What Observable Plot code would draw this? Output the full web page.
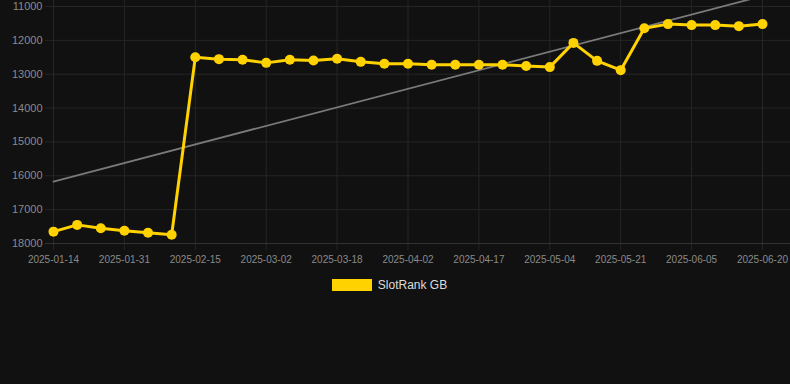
<!DOCTYPE html>
<html>
<head>
<meta charset="utf-8">
<script src="https://cdn.jsdelivr.net/npm/d3@7"></script>
<script src="https://cdn.jsdelivr.net/npm/@observablehq/plot@0.6"></script>
<style>
  html, body { margin: 0; padding: 0; background: #111111; }
  body { width: 790px; height: 384px; overflow: hidden; font-family: "Liberation Sans", Arial, sans-serif; }
  #legend { display: flex; justify-content: center; align-items: center; margin-top: 8px; padding-right: 11px; gap: 6px; }
  #legend .sw { width: 40px; height: 12px; background: #ffd200; }
  #legend .lab { color: #dddddd; font-size: 12px; }
</style>
</head>
<body>
<div id="chart"></div>
<div id="legend"><span class="sw"></span><span class="lab">SlotRank GB</span></div>
<script>
const dates = [
  "2025-01-14","2025-01-20","2025-01-25","2025-01-31","2025-02-05","2025-02-10",
  "2025-02-15","2025-02-20","2025-02-25","2025-03-02","2025-03-07","2025-03-12",
  "2025-03-18","2025-03-23","2025-03-28","2025-04-02","2025-04-07","2025-04-12",
  "2025-04-17","2025-04-22","2025-04-28","2025-05-04","2025-05-10","2025-05-15",
  "2025-05-21","2025-05-26","2025-05-31","2025-06-05","2025-06-10","2025-06-15",
  "2025-06-20"
];
const ranks = [
  17650, 17450, 17550, 17625, 17680, 17740,
  12500, 12555, 12575, 12665, 12575, 12595,
  12545, 12635, 12690, 12690, 12720, 12720,
  12720, 12720, 12760, 12790, 12075, 12605,
  12880, 11640, 11520, 11550, 11550, 11580,
  11520
];
const trendIdx = [0, 30];
const trendVals = [16170, 10690];
const yTicks = [11000, 12000, 13000, 14000, 15000, 16000, 17000, 18000];
const xTickIdx = [0, 3, 6, 9, 12, 15, 18, 21, 24, 27, 30];
const seriesName = "SlotRank GB";

const data = ranks.map((v, i) => ({i, v, date: dates[i]}));
const trend = trendIdx.map((i, k) => ({i, v: trendVals[k]}));

const chart = Plot.plot({
  width: 790,
  height: 270,
  marginLeft: 53,
  marginRight: 28,
  marginTop: 6,
  marginBottom: 27,
  style: { background: "#111111", fontFamily: "Liberation Sans, Arial, sans-serif", overflow: "hidden" },
  x: { type: "linear", domain: [0, 30], label: null },
  y: { domain: [11000, 18000], reverse: true, label: null },
  marks: [
    Plot.gridY(yTicks, { stroke: "#262626", strokeOpacity: 1, insetLeft: -8, insetRight: -28 }),
    Plot.gridX(xTickIdx, { stroke: "#262626", strokeOpacity: 1, insetTop: -6, insetBottom: -7 }),
    Plot.ruleY([18000], { stroke: "#333333", insetLeft: -8, insetRight: -28 }),
    Plot.axisY(yTicks, { tickSize: 0, tickPadding: 11, fontSize: 11, fill: "#8a8a8a", label: null, tickFormat: d => String(d) }),
    Plot.axisX(xTickIdx, { tickSize: 0, tickPadding: 12, fontSize: 10, fill: "#8a8a8a", label: null, tickFormat: i => dates[i] }),
    Plot.line(trend, { x: "i", y: "v", stroke: "#7a7a7a", strokeWidth: 1.8 }),
    Plot.line(data, { x: "i", y: "v", stroke: "#ffd200", strokeWidth: 3, title: () => seriesName }),
    Plot.dot(data, { x: "i", y: "v", r: 5, fill: "#ffd200", stroke: "none" })
  ]
});
document.getElementById("chart").appendChild(chart);
</script>
</body>
</html>
